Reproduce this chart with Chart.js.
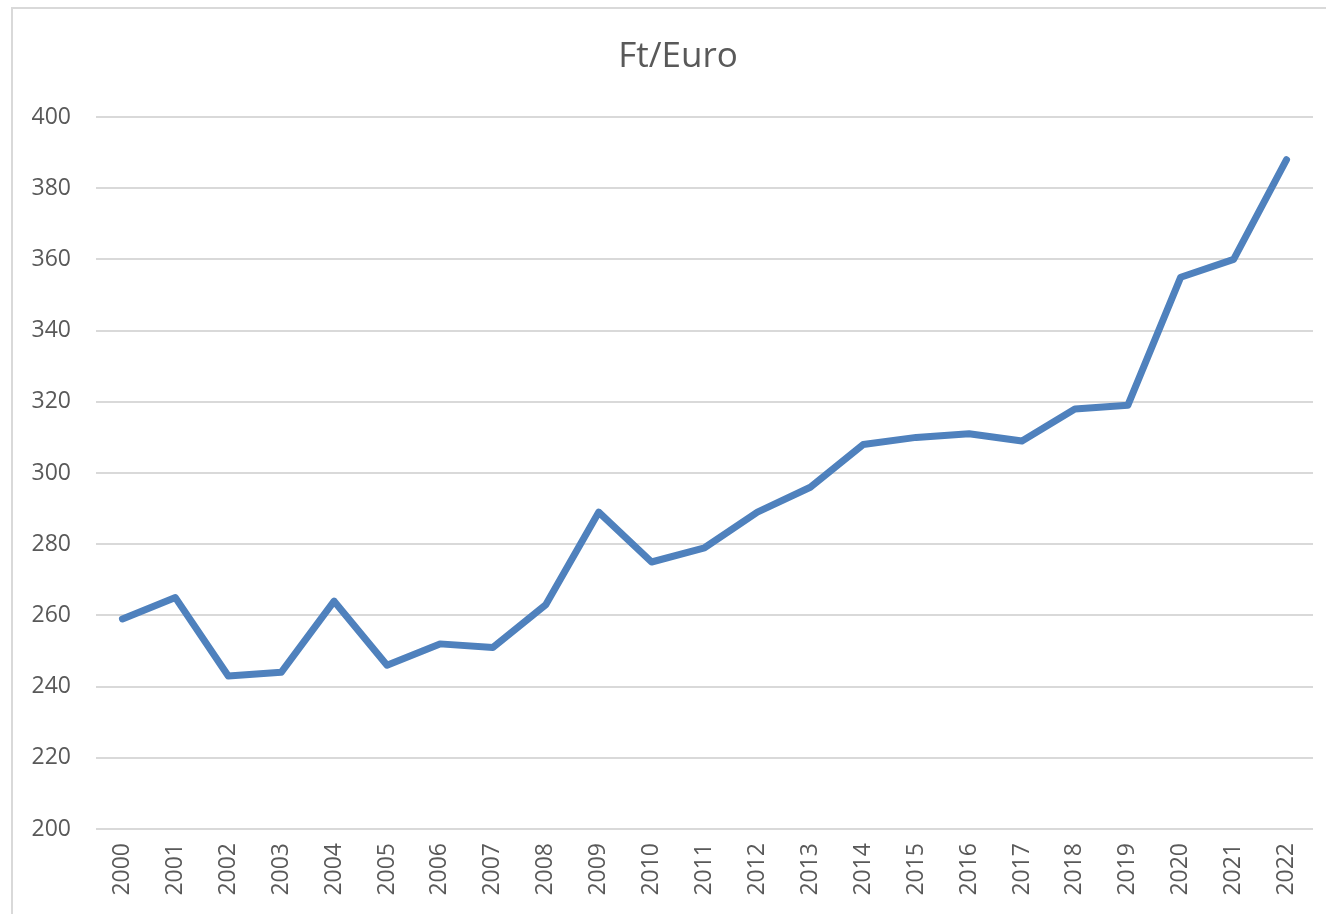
<!DOCTYPE html>
<html>
<head>
<meta charset="utf-8">
<script src="https://cdn.jsdelivr.net/npm/chart.js@4/dist/chart.umd.min.js"></script>
<style>
  html, body { margin: 0; padding: 0; background: #fff; }
  #frame {
    position: absolute; left: 11px; top: 7px; width: 1330px; height: 920px;
    border-top: 2px solid #d9d9d9; border-left: 2px solid #d9d9d9;
  }
  #wrap { position: absolute; left: 0; top: 0; width: 1326px; height: 914px; }
</style>
</head>
<body>
<div id="frame"></div>
<div id="wrap"><canvas id="chart"></canvas></div>
<script>
const years = ["2000", "2001", "2002", "2003", "2004", "2005", "2006", "2007", "2008", "2009", "2010",
  "2011", "2012", "2013", "2014", "2015", "2016", "2017", "2018", "2019", "2020", "2021", "2022"];
const ftPerEuro = [259, 265, 243, 244, 264, 246, 252, 251, 263, 289, 275,
  279, 289, 296, 308, 310, 311, 309, 318, 319, 355, 360, 388];
const yMin = 200;
const yMax = 400;
const yStep = 20;
const chartTitle = "Ft/Euro";

const textColor = "#595959";
const gridColor = "#d9d9d9";
const fontFamily = "'Open Sans', sans-serif";

// title sits a bit right of the canvas centre in the original, so draw it by hand
const titlePlugin = {
  id: "offsetTitle",
  afterDraw(chart) {
    const ctx = chart.ctx;
    ctx.save();
    ctx.font = "35px " + fontFamily;
    ctx.fillStyle = textColor;
    ctx.textAlign = "center";
    ctx.textBaseline = "middle";
    ctx.fillText(chartTitle, 678, 57);
    ctx.restore();
  }
};

new Chart(document.getElementById("chart"), {
  type: "line",
  data: {
    labels: years,
    datasets: [{
      label: chartTitle,
      data: ftPerEuro,
      borderColor: "#4f81bd",
      borderWidth: 7,
      borderCapStyle: "round",
      borderJoinStyle: "round",
      pointRadius: 0,
      fill: false,
      tension: 0
    }]
  },
  plugins: [titlePlugin],
  options: {
    responsive: true,
    maintainAspectRatio: false,
    animation: false,
    layout: { padding: { left: 0, right: 13, top: 117, bottom: 0 } },
    plugins: {
      legend: { display: false },
      tooltip: { enabled: false },
      title: { display: false }
    },
    scales: {
      x: {
        offset: true,
        grid: { display: false, drawTicks: false },
        border: { display: false },
        ticks: {
          color: textColor,
          font: { family: fontFamily, size: 23 },
          minRotation: 90,
          maxRotation: 90,
          autoSkip: false,
          padding: 14
        },
        afterFit: (axis) => {
          axis.height = 85;
          // the offset already leaves room for the last label
          axis.paddingLeft = 0;
          axis.paddingRight = 0;
        }
      },
      y: {
        min: yMin,
        max: yMax,
        grid: { color: gridColor, lineWidth: 2, drawTicks: false },
        border: { display: false },
        ticks: {
          stepSize: yStep,
          color: textColor,
          font: { family: fontFamily, size: 23 },
          padding: 25
        },
        afterFit: (axis) => { axis.width = 96; }
      }
    }
  }
});
</script>
</body>
</html>
